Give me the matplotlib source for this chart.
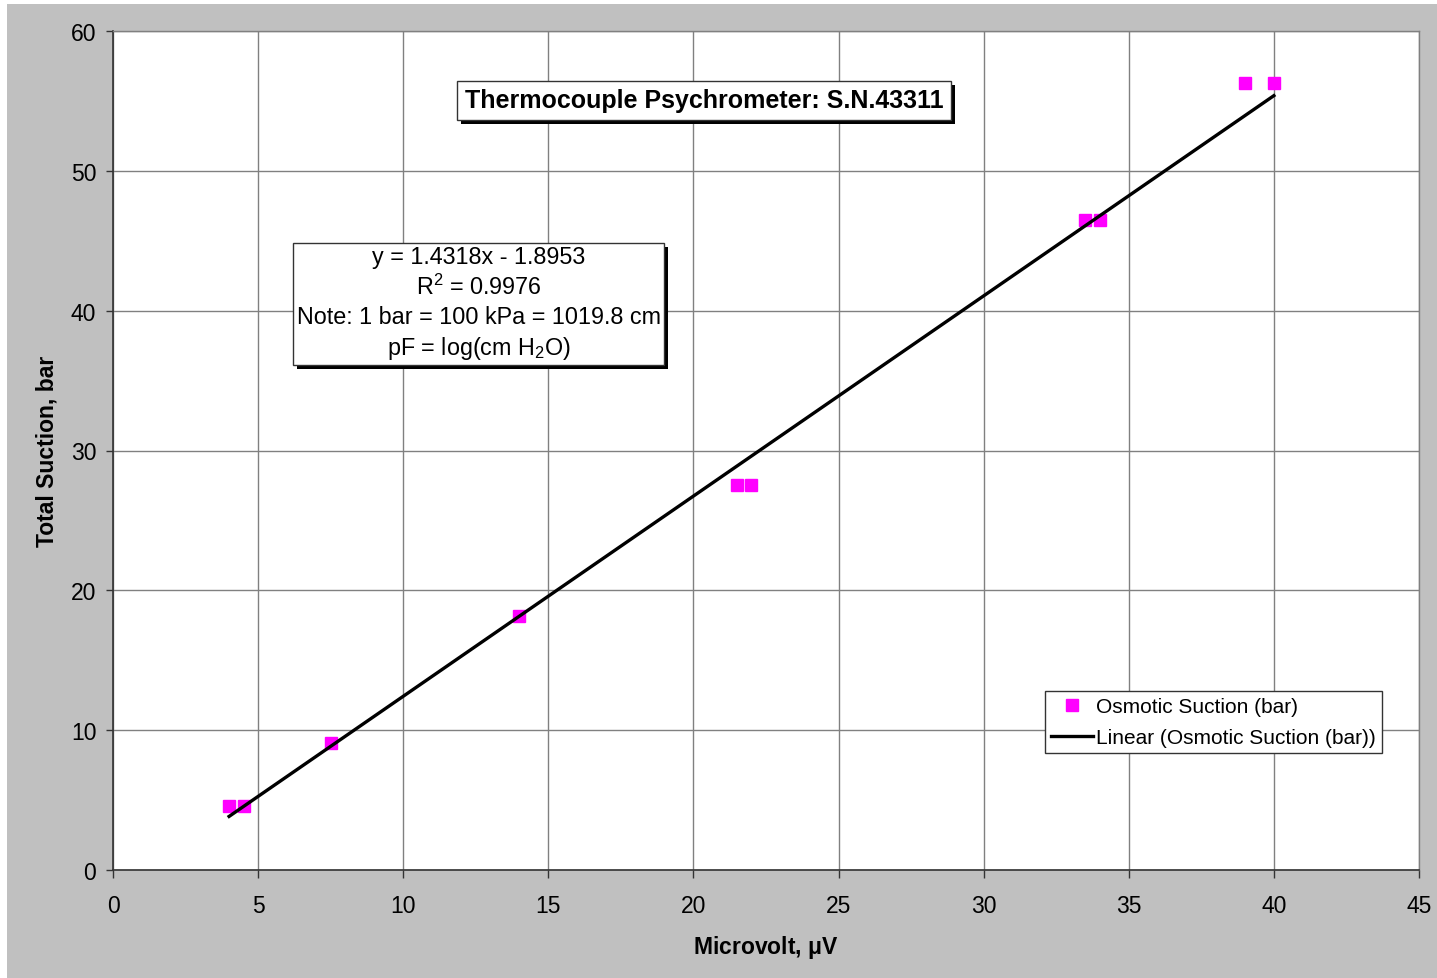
import matplotlib.pyplot as plt
import matplotlib.patheffects as pe
from matplotlib.patches import Rectangle
import numpy as np

plt.rcParams['font.family'] = ['Liberation Sans', 'DejaVu Sans']
plt.rcParams['mathtext.fontset'] = 'custom'
plt.rcParams['mathtext.rm'] = 'Liberation Sans'

# Datos: microvoltios vs succion osmotica (bar)
microvolt = [4.0, 4.5, 7.5, 14.0, 21.5, 22.0, 33.5, 34.0, 39.0, 40.0]
suction = [4.6, 4.6, 9.1, 18.2, 27.5, 27.5, 46.5, 46.5, 56.3, 56.3]

# Ajuste lineal (pendiente, ordenada)
slope = 1.4318
intercept = -1.8953
r2 = 0.9976

fig = plt.figure(figsize=(14.37, 9.79), dpi=100)
fig.patch.set_facecolor('white')
fig.add_artist(Rectangle((7 / 1437, 0), 1, 1 - 5 / 979, transform=fig.transFigure,
                         facecolor='#c0c0c0', edgecolor='none', zorder=-5))

ax = fig.add_axes([113 / 1437, 1 - 871 / 979, 1306 / 1437, 839 / 979])
ax.set_zorder(2)
ax.set_facecolor('white')

ax.plot(microvolt, suction, 's', color='#ff00ff', markersize=8.5, label='Osmotic Suction (bar)', zorder=3)
xl = np.array([min(microvolt), max(microvolt)])
ax.plot(xl, slope * xl + intercept, color='black', lw=2.4, label='Linear (Osmotic Suction (bar))', zorder=4)

ax.set_xlim(0, 45)
ax.set_ylim(0, 60)
ax.set_xticks(range(0, 46, 5))
ax.set_yticks(range(0, 61, 10))
ax.grid(True, color='#808080', lw=1)
ax.set_axisbelow(True)
for s in ['top', 'right']:
    ax.spines[s].set_color('#808080')
    ax.spines[s].set_linewidth(1)
for s in ['left', 'bottom']:
    ax.spines[s].set_color('#333333')
    ax.spines[s].set_linewidth(1.2)
ax.tick_params(axis='x', length=6, width=1, labelsize=16.5, pad=11, color='#333333')
ax.tick_params(axis='y', length=5, width=1, labelsize=16.5, pad=7, color='#333333')

ax.set_xlabel('Microvolt, $\\mathregular{\\mu}$V', fontsize=16.5, fontweight='bold', labelpad=12)
ax.set_ylabel('Total Suction, bar', fontsize=16.5, fontweight='bold', labelpad=9)

shadow = [pe.SimplePatchShadow(offset=(3, -3), shadow_rgbFace='black', alpha=1), pe.Normal()]

# Titulo dentro del area de trazado
t1 = ax.text(0.4525, 0.9175, 'Thermocouple Psychrometer: S.N.43311', transform=ax.transAxes,
             ha='center', va='center', fontsize=18, fontweight='bold',
             bbox=dict(boxstyle='square,pad=0.3', fc='white', ec='#333333', lw=1))
t1.get_bbox_patch().set_path_effects(shadow)

# Cuadro con la ecuacion de ajuste
eq = (f'y = {slope}x - {abs(intercept)}\n'
      f'R$\\mathregular{{^2}}$ = {r2}\n'
      'Note: 1 bar = 100 kPa = 1019.8 cm\n'
      'pF = log(cm H$\\mathregular{_2}$O)')
t2 = ax.text(0.2799, 0.6758, eq, transform=ax.transAxes, ha='center', va='center',
             multialignment='center', fontsize=16.8, linespacing=1.32,
             bbox=dict(boxstyle='square,pad=0.15', fc='white', ec='#333333', lw=1))
t2.get_bbox_patch().set_path_effects(shadow)

leg = ax.legend(loc='lower right', bbox_to_anchor=(0.9717, 0.1394), fontsize=15,
                fancybox=False, framealpha=1, edgecolor='#333333', borderaxespad=0,
                handlelength=2.0, handletextpad=0.15, borderpad=0.3, labelspacing=0.55)
leg.get_frame().set_linewidth(1)

fig.savefig('out.png', dpi=100, facecolor=fig.get_facecolor())
